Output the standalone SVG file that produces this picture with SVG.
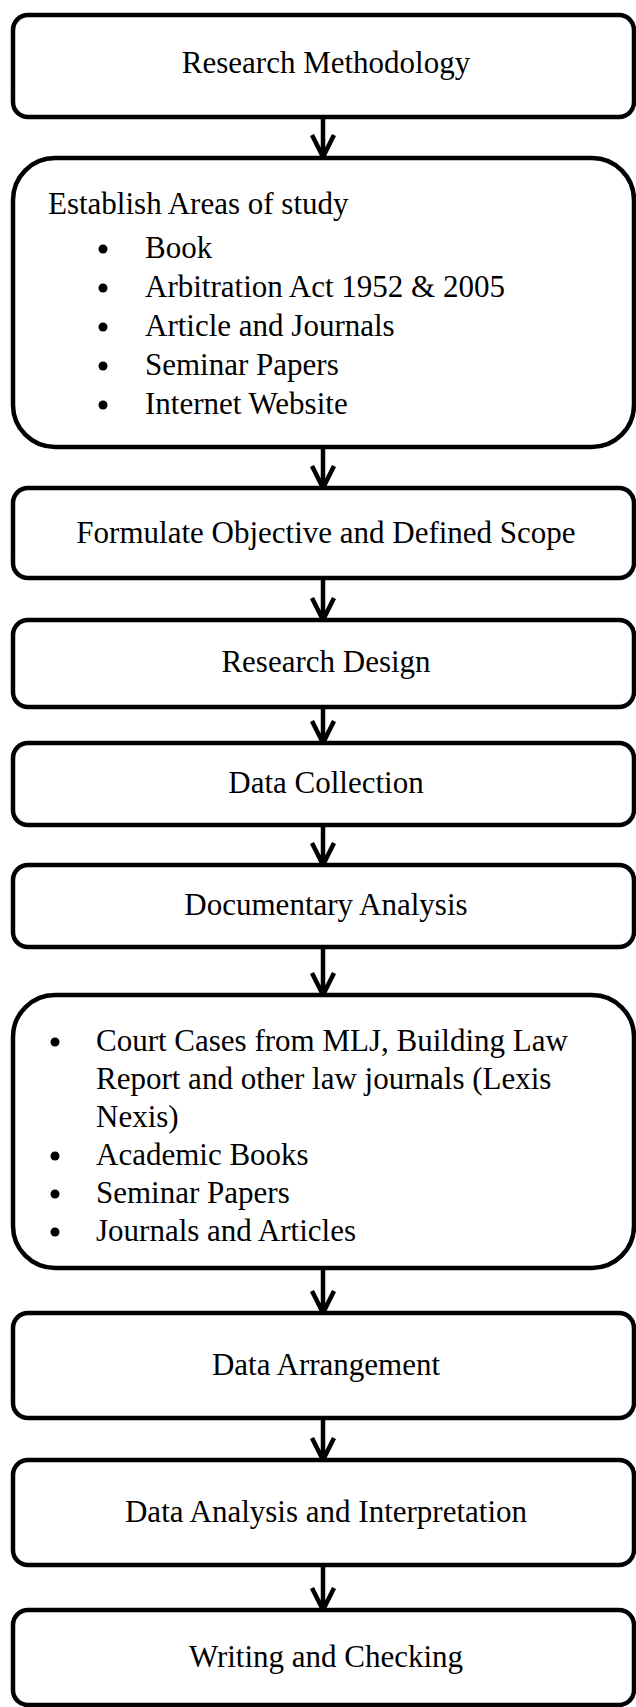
<svg xmlns="http://www.w3.org/2000/svg" width="636" height="1707" viewBox="0 0 636 1707">
<style>
.box{fill:#fff;stroke:#000;stroke-width:4.5}
.t{font-family:"Liberation Serif","Times New Roman",serif;font-size:31px;fill:#000}
.c{text-anchor:middle}
.arr{fill:none;stroke:#000;stroke-width:4.5;stroke-linejoin:miter}
.b{fill:#000}
</style>
<rect width="636" height="1707" fill="#fff"/>
<g id="connectors">
<path class="arr" d="M323 117V158M312 135L323 157L334 135"/>
<path class="arr" d="M323 449V488M312 466L323 488L334 466"/>
<path class="arr" d="M323 580V620M312 598L323 620L334 598"/>
<path class="arr" d="M323 709V743M312 721L323 743L334 721"/>
<path class="arr" d="M323 827V865M312 843L323 865L334 843"/>
<path class="arr" d="M323 949V995M312 973L323 995L334 973"/>
<path class="arr" d="M323 1270V1313M312 1291L323 1313L334 1291"/>
<path class="arr" d="M323 1420V1460M312 1438L323 1460L334 1438"/>
<path class="arr" d="M323 1567V1610M312 1588L323 1610L334 1588"/>
</g>
<g id="n1">
<rect class="box" x="13" y="15" width="621" height="102" rx="15"/>
<text class="t c" x="326" y="73">Research Methodology</text>
</g>
<g id="n2">
<rect class="box" x="13" y="158" width="621" height="289" rx="42"/>
<text class="t" x="48" y="214">Establish Areas of study</text>
<circle class="b" cx="103" cy="249" r="4.5"/><text class="t" x="145" y="258">Book</text>
<circle class="b" cx="103" cy="288" r="4.5"/><text class="t" x="145" y="297">Arbitration Act 1952 &amp; 2005</text>
<circle class="b" cx="103" cy="327" r="4.5"/><text class="t" x="145" y="336">Article and Journals</text>
<circle class="b" cx="103" cy="366" r="4.5"/><text class="t" x="145" y="375">Seminar Papers</text>
<circle class="b" cx="103" cy="405" r="4.5"/><text class="t" x="145" y="414">Internet Website</text>
</g>
<g id="n3">
<rect class="box" x="13" y="488" width="621" height="90" rx="15"/>
<text class="t c" x="326" y="543">Formulate Objective and Defined Scope</text>
</g>
<g id="n4">
<rect class="box" x="13" y="620" width="621" height="87" rx="15"/>
<text class="t c" x="326" y="672">Research Design</text>
</g>
<g id="n5">
<rect class="box" x="13" y="743" width="621" height="82" rx="15"/>
<text class="t c" x="326" y="793">Data Collection</text>
</g>
<g id="n6">
<rect class="box" x="13" y="865" width="621" height="82" rx="15"/>
<text class="t c" x="326" y="915">Documentary Analysis</text>
</g>
<g id="n7">
<rect class="box" x="13" y="995" width="621" height="273" rx="42"/>
<circle class="b" cx="55" cy="1042" r="4.5"/><text class="t" x="96" y="1051">Court Cases from MLJ, Building Law</text>
<text class="t" x="96" y="1089">Report and other law journals (Lexis</text>
<text class="t" x="96" y="1127">Nexis)</text>
<circle class="b" cx="55" cy="1156" r="4.5"/><text class="t" x="96" y="1165">Academic Books</text>
<circle class="b" cx="55" cy="1194" r="4.5"/><text class="t" x="96" y="1203">Seminar Papers</text>
<circle class="b" cx="55" cy="1232" r="4.5"/><text class="t" x="96" y="1241">Journals and Articles</text>
</g>
<g id="n8">
<rect class="box" x="13" y="1313" width="621" height="105" rx="15"/>
<text class="t c" x="326" y="1375">Data Arrangement</text>
</g>
<g id="n9">
<rect class="box" x="13" y="1460" width="621" height="105" rx="15"/>
<text class="t c" x="326" y="1522">Data Analysis and Interpretation</text>
</g>
<g id="n10">
<rect class="box" x="13" y="1610" width="621" height="95" rx="15"/>
<text class="t c" x="326" y="1667">Writing and Checking</text>
</g>
</svg>
